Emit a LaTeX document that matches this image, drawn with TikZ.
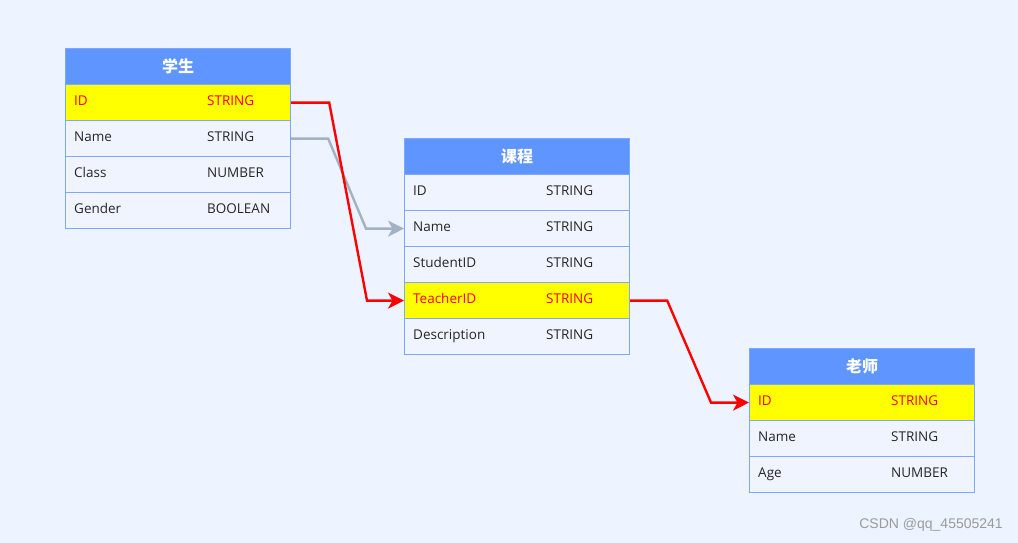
\documentclass[tikz,border=0pt]{standalone}
\usepackage{fontspec}
\setmainfont{Open Sans}
\newfontfamily\cjk{Noto Sans CJK SC}
\newfontfamily\wmfont{Liberation Sans}
\usetikzlibrary{arrows.meta,calc}
\definecolor{bg}{HTML}{EDF4FF}
\definecolor{hdr}{HTML}{5F95FF}
\definecolor{rowbg}{HTML}{EFF4FF}
\definecolor{rowbd}{HTML}{7CA8FF}
\definecolor{txt}{HTML}{262626}
\definecolor{gline}{HTML}{A2B1C3}
\definecolor{wm}{HTML}{9A9A9A}
\definecolor{keyyellow}{HTML}{FFFF00}
\tikzset{
  hdrbox/.style={draw=rowbd, fill=hdr, line width=1.2pt, minimum width=225pt, minimum height=36pt, anchor=north west, inner sep=0pt, text=white, font=\cjk\fontsize{16}{18}\selectfont\bfseries},
  rowbox/.style={draw=rowbd, fill=rowbg, line width=1.2pt, minimum width=225pt, minimum height=36pt, anchor=north west, inner sep=0pt},
  keybox/.style={rowbox, fill=keyyellow},
  fld/.style={anchor=west, inner sep=0pt, text height=10pt, text depth=3pt, text=txt, font=\fontsize{13.5}{16}\selectfont},
  keyfld/.style={fld, text=red},
  redlink/.style={draw=red, line width=2.4pt, -{Stealth[length=16pt,width=16pt,inset=4.5pt]}},
  graylink/.style={draw=gline, line width=2.4pt, -{Stealth[length=16pt,width=16pt,inset=4.5pt]}},
}
\newcommand{\erow}[7]{%
  \node[#6] (#1) at (#2,#3) {};
  \node[#7] (#1f) at ($(#1.west)+(9,-0.5)$) {#4};
  \node[#7] (#1t) at ($(#1.west)+(142,-0.5)$) {#5};
}
\begin{document}
\begin{tikzpicture}[x=1pt,y=-1pt]
\fill[bg] (0,0) rectangle (1018,543);
\useasboundingbox (0,0) rectangle (1018,543);
% Student table
\node[hdrbox] (s0) at (65,48) {学生};
\erow{s1}{65}{84}{ID}{STRING}{keybox}{keyfld}
\erow{s2}{65}{120}{Name}{STRING}{rowbox}{fld}
\erow{s3}{65}{156}{Class}{NUMBER}{rowbox}{fld}
\erow{s4}{65}{192}{Gender}{BOOLEAN}{rowbox}{fld}
% Course table
\node[hdrbox] (c0) at (404,138) {课程};
\erow{c1}{404}{174}{ID}{STRING}{rowbox}{fld}
\erow{c2}{404}{210}{Name}{STRING}{rowbox}{fld}
\erow{c3}{404}{246}{StudentID}{STRING}{rowbox}{fld}
\erow{c4}{404}{282}{TeacherID}{STRING}{keybox}{keyfld}
\erow{c5}{404}{318}{Description}{STRING}{rowbox}{fld}
% Teacher table
\node[hdrbox] (t0) at (749,348) {老师};
\erow{t1}{749}{384}{ID}{STRING}{keybox}{keyfld}
\erow{t2}{749}{420}{Name}{STRING}{rowbox}{fld}
\erow{t3}{749}{456}{Age}{NUMBER}{rowbox}{fld}
% links
\draw[graylink] (s2.east) -- ++(37,0) -- ($(c2.west)+(-38,0)$) -- (c2.west);
\draw[redlink] (s1.east) -- ++(38,0) -- ($(c4.west)+(-37,0)$) -- (c4.west);
\draw[redlink] (c4.east) -- ++(37,0) -- ($(t1.west)+(-38,0)$) -- (t1.west);
% watermark
\node[anchor=east, inner sep=0pt, text=wm, font=\wmfont\fontsize{14}{16}\selectfont] (wmk) at (1003,525) {CSDN @qq\_45505241};
\end{tikzpicture}
\end{document}
